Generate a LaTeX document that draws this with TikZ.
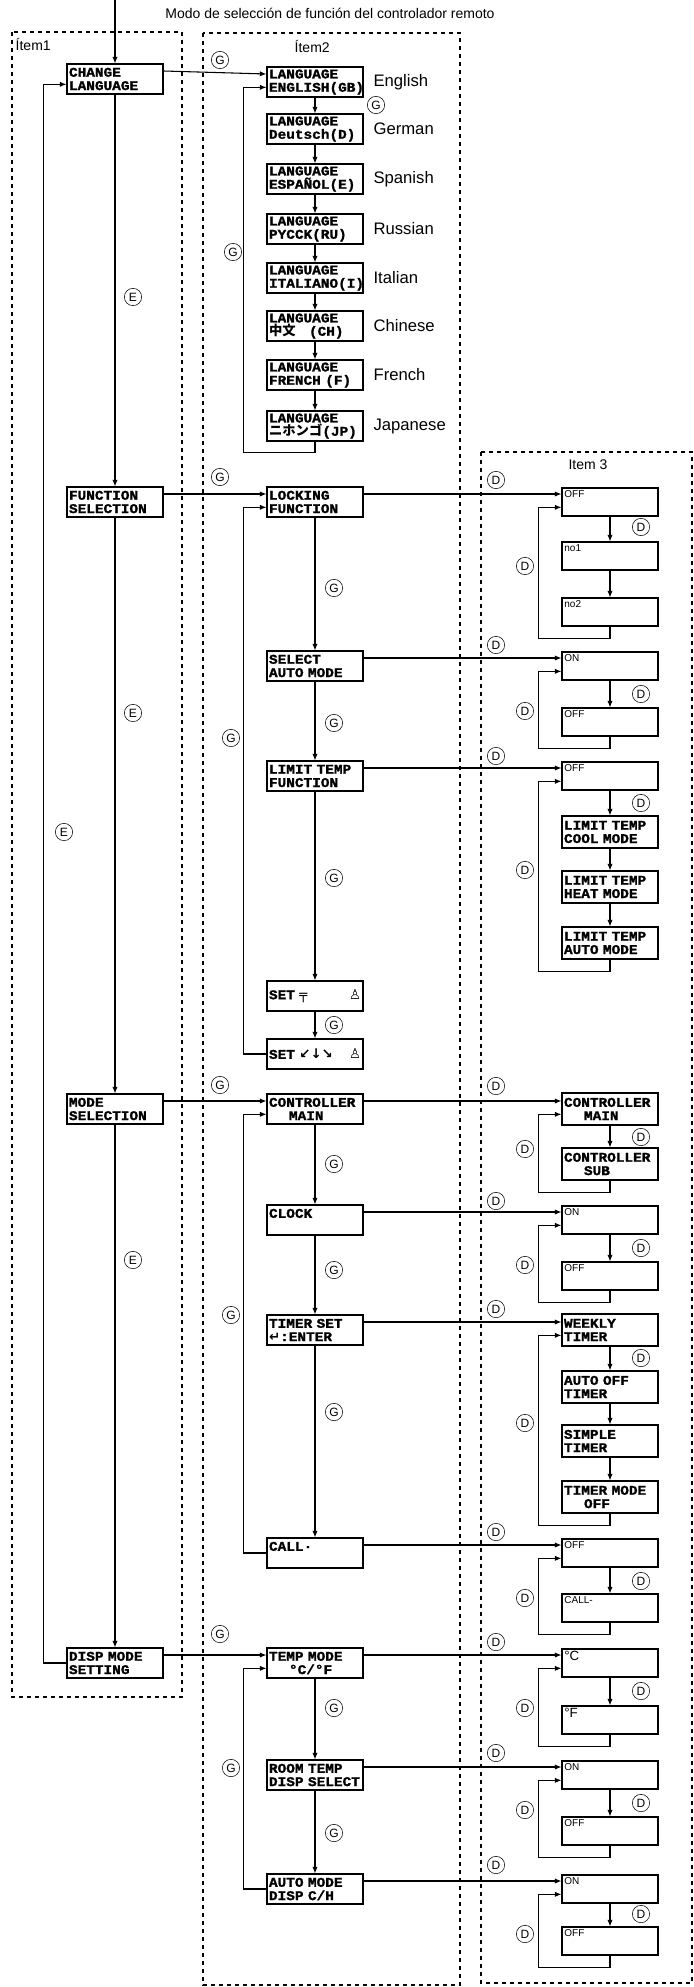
\documentclass[tikz,border=0pt]{standalone}
\usepackage{fontspec}
\setmainfont{Liberation Sans}
\newfontfamily\lcdfont{Liberation Mono}[FakeStretch=1.08, FakeBold=1.5]
\newfontfamily\symfont{DejaVu Sans}
\newfontfamily\cjk{Noto Sans CJK JP}
\usetikzlibrary{arrows.meta}
\tikzset{
  lcd/.style={
    draw, thick,
    minimum width=72pt,
    minimum height=22.5pt,
    inner sep=1pt, text width=69pt, align=left,
    font=\lcdfont\bfseries\fontsize{10}{10}\selectfont,
  },
  optlcd/.style={lcd, minimum height=24pt},
  opt/.style={
    draw, thick,
    minimum width=72pt,
    minimum height=21pt,
    inner sep=0pt,
  },
  opttext/.style={anchor=north west, inner sep=2pt, font=\fontsize{7.5}{8}\selectfont},
  key/.style={circle, draw, thin, minimum size=13pt, inner sep=0pt, font=\fontsize{9}{9}\selectfont},
  frame/.style={dashed, thick},
  flow/.style={thick, -{Latex[length=5pt,width=4pt]}},
  lang/.style={anchor=west, font=\fontsize{12.5}{13}\selectfont},
  head/.style={anchor=west, font=\fontsize{10.5}{11}\selectfont},
}
\newcommand\optbox[3]{
  \node[opt] (#1) at (#2) {};
  \node[opttext] (#1-t) at (#1.north west) {#3};
}

\begin{document}
\begin{tikzpicture}[x=0.75pt, y=-0.75pt]
\useasboundingbox (0,0) rectangle (693,1987);

% frames and headings
\draw[frame] (12,32) rectangle (182,1697);
\draw[frame] (203,33) rectangle (460,1985);
\draw[frame] (481,452) rectangle (692,1983);
\node (title) at (330,13) {\fontsize{10.5}{11}\selectfont Modo de selección de función del controlador remoto};
\node[head] (it1) at (11,45) {Ítem1};
\node[head] (it2) at (290,47) {Ítem2};
\node[head, anchor=center] (it3) at (588,465) {Item 3};

% item 1
\node[lcd] (chg) at (115,79) {CHANGE\\LANGUAGE};
\node[lcd] (func) at (115,502) {FUNCTION\\SELECTION};
\node[lcd] (mode) at (115,1109) {MODE\\SELECTION};
\node[lcd] (disp) at (115,1663) {DISP MODE\\SETTING};
\coordinate (top) at (115,0);
\draw[flow] (top) -- (chg);
\foreach \a/\b in {chg/func, func/mode, mode/disp}
  \draw[flow] (\a) -- (\b);
\draw[flow] (disp.west) -- ++(-23,0) |- ([yshift=-4pt]chg.west);

% item 2: languages
\foreach \n/\y/\a/\b in {
  eng/82/ENGLISH(GB)/English,
  ger/129/Deutsch(D)/German,
  spa/179/ESPAÑOL(E)/Spanish,
  rus/229/PYCCK(RU)/Russian,
  ita/278/ITALIANO(I)/Italian,
  chi/326/{{\cjk 中文}\ \ \ (CH)}/Chinese,
  fre/375/FRENCH (F)/French,
  jap/426/{{\cjk ニホンゴ}(JP)}/Japanese} {
  \node[lcd] (\n) at (315,\y) {LANGUAGE\\\a};
  \node[lang] (\n-l) at ([xshift=4pt]\n.east) {\b};
}
\foreach \a/\b in {eng/ger, ger/spa, spa/rus, rus/ita, ita/chi, chi/fre, fre/jap}
  \draw[flow] (\a) -- (\b);
\draw[flow] (jap.south) -- ++(0,11) -| ([xshift=-17pt,yshift=-4pt]eng.west) -- ([yshift=-4pt]eng.west);

% item 2: functions
\node[lcd] (lock) at (315,502) {LOCKING\\FUNCTION};
\node[lcd] (sel) at (315,666) {SELECT\\AUTO MODE};
\node[lcd] (lim) at (315,776) {LIMIT TEMP\\FUNCTION};
\node[lcd] (set1) at (315,996) {SET {\symfont ╤} \hfill{\symfont ♙}};
\node[lcd] (set2) at (315,1054) {SET {\symfont ↙↓↘}\hfill{\symfont ♙}};
\node[lcd] (ctrl) at (315,1109) {CONTROLLER\\\hspace*{1.5em}MAIN};
\node[lcd] (clk) at (315,1220) {CLOCK\\~};
\node[lcd] (tim) at (315,1330) {TIMER SET\\{\symfont ↵}:ENTER};
\node[lcd] (call) at (315,1553) {CALL·\\~};
\node[lcd] (temp) at (315,1663) {TEMP MODE\\\hspace*{1.5em}°C/°F};
\node[lcd] (room) at (315,1775) {ROOM TEMP\\DISP SELECT};
\node[lcd] (auto) at (315,1889) {AUTO MODE\\DISP C/H};
\foreach \a/\b in {lock/sel, sel/lim, lim/set1, set1/set2, ctrl/clk, clk/tim, tim/call, temp/room, room/auto}
  \draw[flow] (\a) -- (\b);
\foreach \f/\l in {lock/set2, ctrl/call, temp/auto}
  \draw[flow] (\l.west) -- ++(-23,0) |- ([yshift=-4pt]\f.west);
\foreach \a/\b in {chg/eng, func/lock, mode/ctrl, disp/temp}
  \draw[flow] ([yshift=6pt]\a.east) -- ([yshift=6pt]\b.west);

% item 3
\optbox{lo1}{610,502}{OFF}
\optbox{lo2}{610,556}{no1}
\optbox{lo3}{610,612}{no2}
\optbox{sa1}{610,666}{ON}
\optbox{sa2}{610,722}{OFF}
\optbox{li1}{610,776}{OFF}
\node[optlcd] (li2) at (610,832) {LIMIT TEMP\\COOL MODE};
\node[optlcd] (li3) at (610,887) {LIMIT TEMP\\HEAT MODE};
\node[optlcd] (li4) at (610,943) {LIMIT TEMP\\AUTO MODE};
\node[optlcd] (ct1) at (610,1109) {CONTROLLER\\\hspace*{1.5em}MAIN};
\node[optlcd] (ct2) at (610,1164) {CONTROLLER\\\hspace*{1.5em}SUB};
\optbox{cl1}{610,1220}{ON}
\optbox{cl2}{610,1276}{OFF}
\node[optlcd] (ti1) at (610,1330) {WEEKLY\\TIMER};
\node[optlcd] (ti2) at (610,1387) {AUTO OFF\\TIMER};
\node[optlcd] (ti3) at (610,1441) {SIMPLE\\TIMER};
\node[optlcd] (ti4) at (610,1497) {TIMER MODE\\\hspace*{1.5em}OFF};
\optbox{ca1}{610,1553}{OFF}
\optbox{ca2}{610,1608}{CALL-}
\optbox{te1}{610,1663}{\fontsize{10}{10}\selectfont°C}
\optbox{te2}{610,1720}{\fontsize{10}{10}\selectfont°F}
\optbox{ro1}{610,1775}{ON}
\optbox{ro2}{610,1831}{OFF}
\optbox{au1}{610,1889}{ON}
\optbox{au2}{610,1941}{OFF}
\foreach \a/\b in {lo1/lo2, lo2/lo3, sa1/sa2, li1/li2, li2/li3, li3/li4, ct1/ct2, cl1/cl2,
                   ti1/ti2, ti2/ti3, ti3/ti4, ca1/ca2, te1/te2, ro1/ro2, au1/au2}
  \draw[flow] (\a) -- (\b);
\foreach \f/\l in {lo1/lo3, sa1/sa2, li1/li4, ct1/ct2, cl1/cl2, ti1/ti4, ca1/ca2, te1/te2, ro1/ro2, au1/au2}
  \draw[flow] (\l.south) -- ++(0,12) -| ([xshift=-17pt,yshift=-4pt]\f.west) -- ([yshift=-4pt]\f.west);
\foreach \a/\b in {lock/lo1, sel/sa1, lim/li1, ctrl/ct1, clk/cl1, tim/ti1, call/ca1, temp/te1, room/ro1, auto/au1}
  \draw[flow] ([yshift=6pt]\a.east) -- ([yshift=6pt]\b.west);

% key letters
\foreach \x/\y [count=\i] in {220/60, 376/105, 233/252, 220/477, 334/588, 334/723, 231/738, 334/878,
    334/1025, 220/1085, 334/1164, 334/1270, 231/1315, 334/1412, 220/1634, 334/1708, 231/1768, 334/1833}
  \node[key] (g\i) at (\x,\y) {G};
\foreach \x/\y [count=\i] in {133/297, 133/713, 133/1260, 64/832}
  \node[key] (e\i) at (\x,\y) {E};
\foreach \y [count=\i] in {480, 645, 756, 1086, 1201, 1309, 1532, 1642, 1753, 1865}
  \node[key] (dt\i) at (496,\y) {D};
\foreach \y [count=\i] in {527, 694, 803, 1137, 1248, 1358, 1581, 1691, 1803, 1914}
  \node[key] (dr\i) at (641,\y) {D};
\foreach \y [count=\i] in {566, 711, 870, 1149, 1265, 1423, 1598, 1708, 1810, 1934}
  \node[key] (dl\i) at (525,\y) {D};
\end{tikzpicture}
\end{document}
